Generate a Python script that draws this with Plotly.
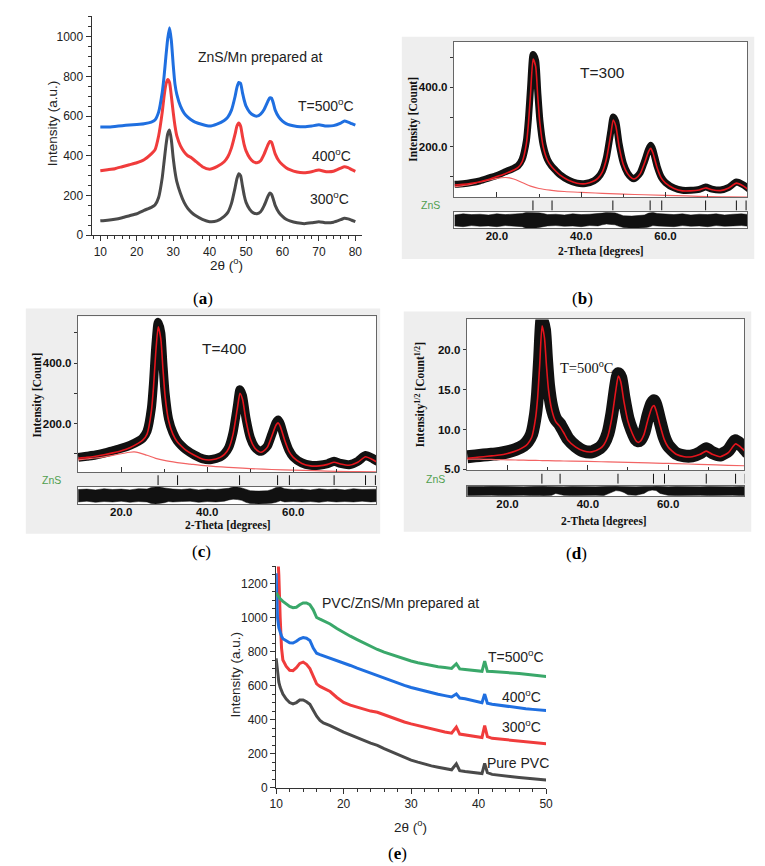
import plotly.graph_objects as go

W, H = 765, 866
SANS = "Liberation Sans, Arial, sans-serif"
SERIF = "Liberation Serif, Times New Roman, serif"

GREY = "#4a4a4a"
RED = "#f03c3c"
BLUE = "#1f6fe0"
GREEN = "#3aa86a"
FIT_RED = "#e4141c"
BG_RED = "#f26464"
ZNS_GREEN = "#4e9e4e"

# ---- (a) ZnS/Mn powders
tt_a = [10, 12, 14, 16, 18, 20, 22, 24, 25, 26,
        27, 27.5, 28, 28.5, 29, 29.5, 30, 30.5, 31, 32,
        33, 34, 35, 36, 38, 40, 42, 44, 45, 46,
        47, 47.5, 48, 48.5, 49, 49.5, 50, 51, 52, 53,
        54, 55, 56, 56.5, 57, 57.5, 58, 59, 60, 61,
        62, 64, 66, 68, 70, 72, 74, 76, 77, 78,
        79, 80]
zns_300 = [72, 75, 80, 88, 98, 108, 125, 140, 152, 190,
           290, 370, 450, 510, 530, 480, 390, 320, 270, 210,
           165, 135, 115, 100, 80, 68, 72, 95, 115, 160,
           240, 285, 310, 300, 250, 200, 165, 130, 112, 108,
           118, 150, 195, 212, 205, 180, 150, 115, 95, 80,
           72, 62, 58, 62, 68, 62, 65, 78, 85, 82,
           75, 68]
zns_400 = [325, 330, 335, 345, 355, 365, 380, 410, 430, 500,
           620, 700, 760, 785, 770, 700, 620, 550, 500, 450,
           420, 400, 390, 375, 345, 332, 345, 370, 395, 440,
           510, 550, 565, 550, 500, 455, 425, 390, 370, 365,
           375, 410, 455, 472, 468, 440, 410, 375, 355, 340,
           330, 318, 315, 320, 328, 320, 322, 338, 345, 340,
           330, 322]
zns_500 = [545, 545, 548, 552, 555, 558, 562, 570, 580, 620,
           720, 800, 900, 990, 1045, 980, 860, 760, 710, 650,
           615, 595, 580, 570, 558, 550, 560, 578, 595, 630,
           700, 745, 770, 765, 720, 680, 650, 620, 605, 600,
           610, 635, 675, 692, 690, 665, 630, 595, 575, 562,
           555, 548, 546, 550, 556, 550, 552, 565, 575, 570,
           562, 555]

# ---- (b)-(d) Rietveld refinements
tt_fit = [10, 12, 14, 16, 18, 20, 22, 24, 25, 26,
          27, 27.5, 28, 28.6, 29.2, 29.7, 30.2, 31, 32, 33,
          34, 35, 37, 39, 41, 43, 44, 45, 46, 47,
          47.6, 48.2, 49, 50, 51, 52, 52.5, 53, 54, 55,
          56, 56.5, 57, 58, 59, 60, 62, 64, 66, 68,
          69.5, 71, 73, 75, 76.8, 78.5, 80]
obs_300 = [74, 76, 80, 86, 95, 104, 116, 128, 136, 158,
           220, 295, 400, 510, 490, 385, 290, 205, 158, 135,
           120, 106, 88, 78, 77, 86, 97, 118, 165, 250,
           300, 285, 210, 145, 112, 96, 93, 97, 113, 150,
           192, 205, 190, 135, 98, 80, 62, 54, 54, 57,
           65, 58, 55, 64, 82, 72, 56]
calc_300 = [72, 74, 78, 83, 90, 100, 110, 122, 130, 150,
            210, 280, 380, 495, 470, 370, 280, 200, 155, 133,
            118, 105, 88, 78, 76, 85, 95, 115, 160, 240,
            290, 270, 200, 140, 110, 95, 92, 95, 110, 145,
            185, 195, 180, 130, 95, 78, 60, 52, 52, 55,
            62, 56, 53, 62, 78, 68, 52]
obs_400 = [88, 92, 96, 102, 110, 118, 128, 142, 152, 175,
           250, 335, 450, 535, 500, 395, 300, 215, 170, 143,
           127, 114, 96, 83, 81, 89, 100, 121, 170, 258,
           312, 292, 218, 154, 123, 110, 108, 112, 126, 164,
           203, 212, 198, 150, 112, 90, 70, 62, 62, 67,
           75, 68, 64, 75, 94, 84, 72]
calc_400 = [85, 88, 92, 97, 103, 110, 120, 135, 145, 165,
            240, 320, 430, 520, 480, 380, 290, 210, 165, 140,
            125, 112, 95, 82, 80, 88, 98, 118, 165, 250,
            300, 280, 210, 150, 120, 107, 105, 108, 122, 158,
            195, 202, 190, 145, 108, 88, 68, 60, 60, 65,
            72, 66, 62, 72, 90, 80, 68]
obs_500 = [6.6, 6.7, 6.8, 6.9, 7.0, 7.2, 7.5, 8.0, 8.5, 9.4,
           12.0, 14.6, 18.8, 23.8, 22.5, 18.8, 15.6, 12.9, 11.3, 10.7,
           9.8, 8.9, 7.9, 7.3, 7.2, 7.7, 8.3, 9.5, 12.0, 15.6,
           17.0, 16.5, 14.0, 11.4, 9.9, 8.8, 8.6, 8.7, 9.7, 11.8,
           13.3, 13.6, 13.0, 11.0, 9.1, 8.0, 7.0, 6.7, 6.7, 7.1,
           7.6, 7.1, 6.8, 7.4, 8.6, 7.9, 7.0]
calc_500 = [6.4, 6.5, 6.6, 6.7, 6.8, 7.0, 7.3, 7.8, 8.2, 9.0,
            11.5, 14.0, 18.0, 23.0, 21.5, 18.0, 15.0, 12.5, 11.0, 10.4,
            9.6, 8.7, 7.8, 7.3, 7.2, 7.6, 8.1, 9.2, 11.5, 15.0,
            16.7, 16.0, 13.5, 11.0, 9.6, 8.6, 8.4, 8.5, 9.4, 11.3,
            12.8, 13.0, 12.4, 10.5, 8.8, 7.8, 6.9, 6.6, 6.6, 6.9,
            7.3, 6.9, 6.6, 7.1, 8.2, 7.6, 6.8]

tt_bg = [10, 12, 14, 16, 18, 20, 22, 23, 24, 26,
         28, 30, 33, 36, 40, 45, 50, 55, 60, 65,
         70, 75, 80]
bg_300 = [66, 70, 75, 82, 88, 94, 97, 96, 92, 80,
          68, 60, 54, 50, 47, 44, 41, 39, 37, 35,
          33, 32, 31]
bg_400 = [80, 83, 86, 90, 95, 100, 105, 106, 104, 95,
          85, 78, 71, 66, 60, 55, 51, 48, 46, 44,
          42, 41, 40]
bg_500 = [6.3, 6.29, 6.27, 6.25, 6.23, 6.2, 6.18, 6.17, 6.16, 6.14,
          6.12, 6.1, 6.07, 6.04, 6.0, 5.94, 5.88, 5.82, 5.75, 5.68,
          5.6, 5.52, 5.45]

# difference curves (obs - calc), upper / lower edge of the noisy band
tt_res = [10, 12, 14, 16, 18, 20, 22, 24, 26, 27,
          28, 29, 30, 31, 32, 34, 36, 38, 40, 42,
          44, 45, 46, 47, 48, 49, 50, 52, 54, 55,
          56, 57, 58, 60, 62, 64, 66, 68, 70, 72,
          74, 76, 78, 80]
res_hi_300 = [0.7, 0.85, 0.75, 0.8, 0.7, 0.85, 0.75, 0.8, 0.9, 1.05,
              1.05, 1.05, 1.0, 0.9, 0.75, 0.8, 0.7, 0.85, 0.75, 0.8,
              0.85, 0.95, 1.05, 1.05, 1.0, 0.8, 0.6, 0.55, 0.6, 0.7,
              0.95, 1.05, 0.9, 0.8, 0.75, 0.85, 0.7, 0.8, 0.75, 0.85,
              0.7, 0.8, 0.85, 0.75]
res_lo_300 = [-0.75, -0.85, -0.7, -0.8, -0.75, -0.85, -0.7, -0.8, -0.85, -1.05,
              -1.05, -1.05, -0.95, -0.8, -0.75, -0.7, -0.8, -0.75, -0.85, -0.7,
              -0.75, -0.6, -0.5, -0.55, -0.6, -0.8, -0.95, -1.05, -1.05, -1.0,
              -0.9, -0.7, -0.75, -0.8, -0.85, -0.7, -0.8, -0.75, -0.85, -0.7,
              -0.8, -0.75, -0.7, -0.8]
res_hi_400 = [0.75, 0.8, 0.7, 0.85, 0.75, 0.8, 0.7, 0.85, 0.8, 1.0,
              1.05, 1.05, 0.95, 0.85, 0.8, 0.75, 0.85, 0.7, 0.8, 0.75,
              0.8, 0.9, 1.05, 1.05, 0.95, 0.75, 0.6, 0.55, 0.6, 0.75,
              1.0, 1.05, 0.85, 0.75, 0.8, 0.7, 0.85, 0.75, 0.8, 0.7,
              0.85, 0.75, 0.8, 0.8]
res_lo_400 = [-0.8, -0.7, -0.85, -0.75, -0.8, -0.7, -0.85, -0.75, -0.8, -1.0,
              -1.05, -1.0, -0.9, -0.75, -0.8, -0.75, -0.7, -0.85, -0.75, -0.8,
              -0.7, -0.55, -0.45, -0.5, -0.6, -0.85, -1.0, -1.05, -1.0, -0.95,
              -0.85, -0.65, -0.8, -0.75, -0.8, -0.75, -0.85, -0.7, -0.8, -0.75,
              -0.8, -0.7, -0.8, -0.75]
res_hi_500 = [0.95, 0.9, 0.95, 1.0, 0.95, 0.9, 0.95, 0.9, 0.95, 1.0,
              1.0, 1.0, 0.95, 0.9, 0.95, 0.9, 0.95, 0.9, 0.95, 0.9,
              0.95, 1.0, 1.0, 1.0, 0.95, 0.9, 0.95, 0.9, 0.95, 0.9,
              0.95, 1.0, 0.95, 0.9, 0.95, 0.9, 0.95, 0.9, 0.95, 0.9,
              0.95, 0.9, 0.95, 0.9]
res_lo_500 = [-0.95, -0.9, -0.95, -0.9, -0.95, -0.9, -0.95, -0.9, -0.95, -0.9,
              -0.95, -1.0, -0.95, -0.9, -0.5, -0.9, -0.95, -0.9, -0.95, -0.9,
              -0.95, -0.6, -0.1, 0.1, 0.0, -0.3, -0.8, -0.9, -0.5, 0.0,
              0.2, 0.1, -0.5, -0.9, -0.95, -0.9, -0.95, -0.9, -0.95, -0.9,
              -0.95, -0.9, -0.95, -0.9]

zns_hkl = [28.56, 33.09, 47.51, 56.35, 59.1, 69.5, 76.8, 79.1]

# ---- (e) PVC films
tt_e = [10, 10.2, 10.4, 10.6, 10.8, 11, 11.5, 12, 12.5, 13,
        13.5, 14, 14.5, 15, 15.5, 16, 16.5, 17, 18, 19,
        20, 21, 22, 23, 24, 25, 26, 27, 28, 29,
        30, 31, 32, 33, 34, 35, 36, 36.7, 37.2, 38,
        39, 40, 40.5, 40.9, 41.3, 42, 43, 44, 45, 46,
        47, 48, 49, 50]
pvc_pure = [760, 680, 620, 590, 570, 550, 520, 500, 492, 500,
            515, 515, 505, 490, 455, 420, 395, 380, 365, 345,
            327, 310, 292, 278, 262, 249, 230, 212, 195, 178,
            162, 150, 138, 128, 120, 113, 105, 140, 100, 95,
            90, 85, 83, 142, 88, 78, 72, 68, 64, 60,
            56, 52, 48, 45]
pvc_300 = [None, 1400, 1250, 1000, 820, 750, 712, 690, 688, 705,
           730, 738, 725, 700, 650, 610, 595, 585, 565, 530,
           501, 485, 472, 460, 450, 443, 428, 412, 398, 386,
           375, 365, 355, 345, 335, 327, 320, 356, 315, 310,
           303, 297, 295, 365, 300, 290, 286, 282, 278, 274,
           270, 266, 262, 258]
pvc_400 = [1260, 1000, 940, 910, 890, 875, 862, 852, 850, 860,
           875, 882, 878, 865, 820, 790, 782, 775, 760, 748,
           735, 718, 702, 687, 672, 657, 643, 628, 614, 601,
           589, 578, 568, 558, 549, 541, 533, 550, 527, 522,
           512, 501, 499, 550, 496, 490, 484, 478, 472, 468,
           464, 460, 456, 453]
pvc_500 = [1145, 1130, 1120, 1110, 1100, 1095, 1080, 1065, 1058, 1060,
           1075, 1085, 1085, 1075, 1045, 1000, 990, 980, 962, 935,
           910, 890, 870, 850, 830, 812, 796, 782, 768, 756,
           744, 734, 725, 717, 711, 706, 701, 728, 698, 695,
           690, 686, 684, 744, 684, 682, 680, 678, 676, 671,
           666, 662, 658, 653]


def dom_x(a, b):
    return [a / W, b / W]


def dom_y(top, bottom):
    return [1 - bottom / H, 1 - top / H]


def bold(vals):
    return ["<b>%.1f</b>" % v for v in vals]


def note(text, x, y, size, family=SANS, color="#222", angle=0, xanchor="center"):
    return dict(text=text, x=x / W, y=1 - y / H, xref="paper", yref="paper",
                showarrow=False, xanchor=xanchor, yanchor="middle",
                textangle=angle, font=dict(family=family, size=size, color=color))


def rect(x0, y0, x1, y1, color):
    return dict(type="rect", xref="paper", yref="paper", layer="below",
                x0=x0 / W, x1=x1 / W, y0=1 - y1 / H, y1=1 - y0 / H,
                fillcolor=color, line_width=0)


def ax_key(kind, i):
    return kind + "axis" + ("" if i == 1 else str(i))


def ref(kind, i):
    return kind + ("" if i == 1 else str(i))


fig = go.Figure()
layout = {}
shapes = []

# ---------------- (a)
for ys, col in [(zns_300, GREY), (zns_400, RED), (zns_500, BLUE)]:
    fig.add_trace(go.Scatter(x=tt_a, y=ys, mode="lines", xaxis="x", yaxis="y",
                             line=dict(color=col, width=3, shape="spline", smoothing=0.5)))

plain_axis = dict(showline=True, linecolor="#333", linewidth=1, ticks="outside",
                  tickcolor="#333", showgrid=False, zeroline=False,
                  tickfont=dict(family=SANS, size=12, color="#222"))
layout["xaxis"] = dict(plain_axis, domain=dom_x(78, 353), range=[7.6, 81.7], anchor="y",
                       tickvals=list(range(10, 81, 10)), ticklen=5,
                       minor=dict(ticks="outside", dtick=2, tick0=0, ticklen=3, tickcolor="#333"))
layout["yaxis"] = dict(plain_axis, domain=dom_y(8, 229), range=[0, 1105], anchor="x",
                       tickvals=list(range(0, 1001, 200)), ticklen=5,
                       minor=dict(ticks="outside", dtick=50, tick0=0, ticklen=3, tickcolor="#333"))


# ---------------- (b)-(d)
def fit_panel(i, main, hkl, resid, xr, yr, yticks, yminor,
              obs, calc, bg, r_hi, r_lo, band):
    x0, x1, top, bot = main
    xi, hi, ri = i, i + 1, i + 2
    fig.add_trace(go.Scatter(x=tt_fit, y=obs, mode="lines", xaxis=ref("x", xi), yaxis=ref("y", xi),
                             line=dict(color="#111", width=band, shape="spline", smoothing=0.6)))
    fig.add_trace(go.Scatter(x=tt_bg, y=bg, mode="lines", xaxis=ref("x", xi), yaxis=ref("y", xi),
                             line=dict(color=BG_RED, width=1.2, shape="spline")))
    fig.add_trace(go.Scatter(x=tt_fit, y=calc, mode="lines", xaxis=ref("x", xi), yaxis=ref("y", xi),
                             line=dict(color=FIT_RED, width=1.6, shape="spline", smoothing=0.6)))
    fig.add_trace(go.Scatter(x=zns_hkl, y=[0] * len(zns_hkl), mode="markers",
                             xaxis=ref("x", hi), yaxis=ref("y", hi),
                             marker=dict(symbol="line-ns", size=7, line=dict(width=1, color="#111"))))
    fig.add_trace(go.Scatter(x=tt_res, y=r_lo, mode="lines", xaxis=ref("x", ri), yaxis=ref("y", ri),
                             line=dict(color="#111", width=0.5)))
    fig.add_trace(go.Scatter(x=tt_res, y=r_hi, mode="lines", xaxis=ref("x", ri), yaxis=ref("y", ri),
                             fill="tonexty", fillcolor="#111", line=dict(color="#111", width=0.5)))

    box = dict(showline=True, mirror=True, linecolor="#666", linewidth=1,
               showgrid=False, zeroline=False)
    tf = dict(family=SANS, size=11.5, color="#111")
    layout[ax_key("x", xi)] = dict(box, domain=dom_x(x0, x1), range=xr, anchor=ref("y", xi),
                                   showticklabels=False, ticks="inside", ticklen=5, tickcolor="#333",
                                   tickvals=[20, 40, 60],
                                   minor=dict(ticks="inside", tickvals=[30, 50, 70], ticklen=3,
                                              tickcolor="#333"))
    layout[ax_key("y", xi)] = dict(box, domain=dom_y(top, bot), range=yr, anchor=ref("x", xi),
                                   tickvals=yticks, ticktext=bold(yticks), tickfont=tf,
                                   ticks="outside", ticklen=3, tickcolor="#333",
                                   minor=dict(ticks="outside", tickvals=yminor, ticklen=3,
                                              tickcolor="#333"))
    layout[ax_key("x", hi)] = dict(domain=dom_x(x0, x1), range=xr, anchor=ref("y", hi), visible=False)
    layout[ax_key("y", hi)] = dict(domain=dom_y(*hkl), range=[-1, 1], anchor=ref("x", hi), visible=False)
    layout[ax_key("x", ri)] = dict(box, domain=dom_x(x0, x1), range=xr, anchor=ref("y", ri),
                                   tickvals=[20, 40, 60], ticktext=bold([20, 40, 60]),
                                   tickfont=tf, ticks="", ticklabelstandoff=-3)
    layout[ax_key("y", ri)] = dict(box, domain=dom_y(*resid), range=[-1.05, 1.05],
                                   anchor=ref("x", ri), showticklabels=False, ticks="")
    shapes.append(rect(x0, top, x1, bot, "white"))
    shapes.append(rect(x0, resid[0], x1, resid[1], "white"))


shapes.append(rect(394, 29, 753, 253, "#eeeeee"))
shapes.append(rect(11, 303, 372, 530, "#eeeeee"))
shapes.append(rect(396, 306, 750, 528, "#eeeeee"))

fit_panel(2, (447, 746, 34, 191), (193, 205), (206, 222), [9.8, 79.4], [30, 553],
          [200, 400], [100, 300, 500], obs_300, calc_300, bg_300, res_hi_300, res_lo_300, 7)
fit_panel(5, (64, 368, 311, 468), (470, 482), (483, 500), [9.9, 79.3], [39, 554],
          [200, 400], [100, 300, 500], obs_400, calc_400, bg_400, res_hi_400, res_lo_400, 9)
fit_panel(8, (460, 743, 314, 466), (468, 481), (482, 492), [9.8, 79.0], [4.9, 23.8],
          [5, 10, 15, 20], [], obs_500, calc_500, bg_500, res_hi_500, res_lo_500, 13)

# ---------------- (e)
for ys, col in [(pvc_pure, GREY), (pvc_300, RED), (pvc_400, BLUE), (pvc_500, GREEN)]:
    fig.add_trace(go.Scatter(x=tt_e, y=ys, mode="lines", xaxis="x11", yaxis="y11",
                             line=dict(color=col, width=3)))
layout["xaxis11"] = dict(plain_axis, domain=dom_x(266, 541), range=[10, 50], anchor="y11",
                         tickvals=[10, 20, 30, 40, 50], ticklen=5,
                         minor=dict(ticks="outside", dtick=2, tick0=0, ticklen=3, tickcolor="#333"))
layout["yaxis11"] = dict(plain_axis, domain=dom_y(563, 786), range=[0, 1300], anchor="x11",
                         tickvals=list(range(0, 1201, 200)), ticklen=5,
                         minor=dict(ticks="outside", dtick=50, tick0=0, ticklen=3, tickcolor="#333"))

deg = "<sup>o</sup>"
notes = [
    # (a)
    note("Intensity (a.u.)", 38, 116, 13.5, angle=-90),
    note("2\u03b8 (" + deg + ")", 215, 258, 13.5),
    note("ZnS/Mn prepared at", 250, 49, 14),
    note("T=500" + deg + "C", 347, 98, 14, xanchor="right"),
    note("400" + deg + "C", 322, 148, 14),
    note("300" + deg + "C", 320, 192, 14),
    note("(<b>a</b>)", 192, 293, 17, family=SERIF, color="#000"),
    # (b)
    note("T=300", 598, 65, 15.5),
    note("ZnS", 423, 199, 10.5, color=ZNS_GREEN),
    note("<b>Intensity [Count]</b>", 406, 112, 11.5, family=SERIF, color="#111", angle=-90),
    note("<b>2-Theta [degrees]</b>", 597, 245, 11.5, family=SERIF, color="#111"),
    note("(<b>b</b>)", 578, 293, 17, family=SERIF, color="#000"),
    # (c)
    note("T=400", 213, 343, 15.5),
    note("ZnS", 37, 476, 10.5, color=ZNS_GREEN),
    note("<b>Intensity [Count]</b>", 23, 390, 11.5, family=SERIF, color="#111", angle=-90),
    note("<b>2-Theta [degrees]</b>", 217, 522, 11.5, family=SERIF, color="#111"),
    note("(<b>c</b>)", 190, 548, 17, family=SERIF, color="#000"),
    # (d)
    note("T=500" + deg + "C", 583, 362, 14.5, family=SERIF, color="#111"),
    note("ZnS", 428, 475, 10.5, color=ZNS_GREEN),
    note("<b>Intensity<sup>1/2</sup> [Count<sup>1/2</sup>]</b>", 413, 390, 11.5,
         family=SERIF, color="#111", angle=-90),
    note("<b>2-Theta [degrees]</b>", 600, 518, 11.5, family=SERIF, color="#111"),
    note("(<b>d</b>)", 572, 550, 17, family=SERIF, color="#000"),
    # (e)
    note("Intensity (a.u.)", 225, 672, 13.5, angle=-90),
    note("2\u03b8 (" + deg + ")", 403, 825, 13.5),
    note("PVC/ZnS/Mn prepared at", 393, 600, 14),
    note("T=500" + deg + "C", 541, 653, 14, xanchor="right"),
    note("400" + deg + "C", 538, 694, 14, xanchor="right"),
    note("300" + deg + "C", 538, 724, 14, xanchor="right"),
    note("Pure PVC", 546, 761, 14, xanchor="right"),
    note("(<b>e</b>)", 390, 852, 17, family=SERIF, color="#000"),
]

fig.update_layout(
    width=W, height=H,
    margin=dict(l=0, r=0, t=0, b=0),
    paper_bgcolor="white",
    plot_bgcolor="rgba(0,0,0,0)",
    showlegend=False,
    font=dict(family=SANS, color="#222"),
    annotations=notes,
    shapes=shapes,
    **layout,
)

fig.write_html("out.html")
